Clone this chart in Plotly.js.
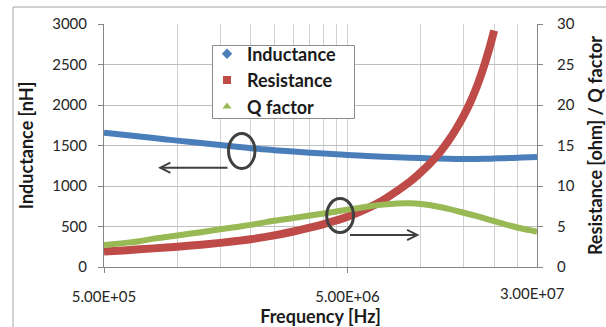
<!DOCTYPE html>
<html>
<head>
<meta charset="utf-8">
<script src="https://cdn.plot.ly/plotly-3.0.1.min.js"></script>
<style>
html,body{margin:0;padding:0;background:#fff;}
#chart{width:606px;height:327px;}
</style>
</head>
<body>
<div id="chart"></div>
<script>
// ---- data ----
const frequency = [5e5, 6e5, 7e5, 8e5, 9e5, 1e6, 1.25e6, 1.5e6, 1.75e6, 2e6, 2.5e6, 3e6, 3.5e6, 4e6, 4.5e6, 5e6, 6e6, 7e6, 8e6, 9e6, 1e7, 1.1e7, 1.2e7, 1.3e7, 1.4e7, 1.5e7, 1.6e7, 1.7e7, 1.8e7, 1.9e7, 2e7, 2.2e7, 2.4e7, 2.6e7, 2.8e7, 3e7];
const inductance = [1658, 1632, 1610, 1592, 1575, 1560, 1530, 1505, 1485, 1466, 1442, 1425, 1410, 1400, 1391, 1383, 1371, 1362, 1355, 1349, 1345, 1341, 1338, 1336, 1334, 1333, 1333, 1334, 1335, 1337, 1339, 1343, 1347, 1351, 1355, 1359];
const resistance = [1.9, 2.05, 2.18, 2.3, 2.4, 2.5, 2.75, 2.98, 3.2, 3.42, 3.9, 4.38, 4.85, 5.3, 5.75, 6.2, 7.2, 8.25, 9.4, 10.5, 11.7, 12.9, 14.2, 15.6, 17.1, 18.7, 20.4, 22.3, 24.4, 26.7, 29.2, null, null, null, null, null];
const qFactor = [2.7, 2.95, 3.18, 3.5, 3.7, 3.9, 4.3, 4.65, 4.95, 5.2, 5.7, 6.05, 6.35, 6.6, 6.85, 7.08, 7.45, 7.7, 7.84, 7.86, 7.79, 7.62, 7.4, 7.17, 6.93, 6.7, 6.48, 6.27, 6.06, 5.86, 5.66, 5.3, 5.0, 4.75, 4.55, 4.35];

const seriesNames = ['Inductance', 'Resistance', 'Q factor'];
const xTickVals = [5e5, 5e6];
const xTickText = ['5.00E+05', '5.00E+06'];
const xEndLabel = '3.00E+07';
const xMinorGrid = [1e6, 1.5e6, 2e6, 2.5e6, 3e6, 3.5e6, 4e6, 4.5e6, 1e7, 1.5e7, 2e7, 2.5e7];
const yLeftTicks = [0, 500, 1000, 1500, 2000, 2500, 3000];
const yRightTicks = [0, 5, 10, 15, 20, 25, 30];

const BLUE = '#4a7ebb', RED = '#be4b48', GREEN = '#98b954';
const AX = '#868686';
const FONT = 'Lato, "Open Sans", sans-serif';

const traces = [
  {x: frequency, y: inductance, mode: 'lines', line: {color: BLUE, width: 6, shape: 'spline'}, yaxis: 'y', showlegend: false, hoverinfo: 'skip'},
  {x: frequency, y: resistance, mode: 'lines', line: {color: RED, width: 8, shape: 'spline'}, yaxis: 'y2', showlegend: false, hoverinfo: 'skip'},
  {x: frequency, y: qFactor, mode: 'lines', line: {color: GREEN, width: 6, shape: 'spline'}, yaxis: 'y2', showlegend: false, hoverinfo: 'skip'},
  // legend entries (marker symbols only, as in the reference)
  {x: [null], y: [null], mode: 'markers', name: seriesNames[0], marker: {symbol: 'diamond', color: BLUE, size: 8}},
  {x: [null], y: [null], mode: 'markers', name: seriesNames[1], marker: {symbol: 'square', color: RED, size: 8}, yaxis: 'y2'},
  {x: [null], y: [null], mode: 'markers', name: seriesNames[2], marker: {symbol: 'triangle-up', color: GREEN, size: 8}, yaxis: 'y2'}
];

// pixel helpers for plot-area paper coords
const L = 104, T = 24, W = 433, H = 243;
const px = v => (v - L) / W;
const py = v => (T + H - v) / H;

const layout = {
  width: 606, height: 327,
  margin: {l: L, r: 606 - L - W, t: T, b: 327 - T - H},
  paper_bgcolor: '#fff', plot_bgcolor: '#fff',
  font: {family: FONT, color: '#262626', size: 15},
  showlegend: true,
  legend: {
    x: px(207), y: py(35.5), xanchor: 'left', yanchor: 'top',
    bgcolor: 'rgba(0,0,0,0)', borderwidth: 0,
    font: {family: FONT, size: 18, color: '#1a1a1a', weight: 'bold'},
    tracegroupgap: 0
  },
  xaxis: {
    type: 'log',
    range: [Math.log10(5e5), Math.log10(3e7)],
    tickmode: 'array', tickvals: xTickVals, ticktext: xTickText,
    ticks: 'outside', ticklen: 5, tickcolor: AX, tickwidth: 1,
    ticklabelstandoff: 11,
    showline: true, linecolor: AX, linewidth: 1,
    showgrid: true, gridcolor: '#d0d0d0', gridwidth: 1,
    minor: {tickmode: 'array', tickvals: xMinorGrid, showgrid: true, gridcolor: '#d0d0d0', gridwidth: 1, ticks: ''},
    zeroline: false,
    tickfont: {family: FONT, size: 15, color: '#262626'},
    title: {text: 'Frequency [Hz]', font: {family: FONT, size: 18, weight: 'bold', color: '#1a1a1a'}, standoff: 6}
  },
  yaxis: {
    range: [0, 3000], tickmode: 'array', tickvals: yLeftTicks,
    ticks: 'outside', ticklen: 5, tickcolor: AX,
    ticklabelstandoff: 8,
    showline: true, linecolor: AX, linewidth: 1,
    showgrid: true, gridcolor: '#bfbfbf', gridwidth: 1,
    zeroline: false,
    tickfont: {family: FONT, size: 15, color: '#262626'},
    title: {text: 'Inductance [nH]', font: {family: FONT, size: 18, weight: 'bold', color: '#1a1a1a'}, standoff: 13}
  },
  yaxis2: {
    overlaying: 'y', side: 'right',
    range: [0, 30], tickmode: 'array', tickvals: yRightTicks,
    ticks: 'outside', ticklen: 5, tickcolor: AX,
    ticklabelstandoff: 11,
    showline: true, linecolor: AX, linewidth: 1,
    showgrid: false, zeroline: false,
    tickfont: {family: FONT, size: 15, color: '#262626'},
    title: {text: 'Resistance [ohm] / Q factor', font: {family: FONT, size: 18, weight: 'bold', color: '#1a1a1a'}, standoff: 15}
  },
  shapes: [
    // chart frame
    {type: 'rect', xref: 'paper', yref: 'paper', x0: px(13), x1: px(640), y0: py(360), y1: py(7), line: {color: '#a6a6a6', width: 1}, fillcolor: 'rgba(0,0,0,0)', layer: 'below'},
    // legend box
    {type: 'rect', xref: 'paper', yref: 'paper', x0: px(212.5), x1: px(354.5), y0: py(118.5), y1: py(45.5), line: {color: '#8c8c8c', width: 1}, fillcolor: '#ffffff', layer: 'above'},
    // ellipses
    {type: 'circle', xref: 'paper', yref: 'paper', x0: px(228.5), x1: px(255), y0: py(168.5), y1: py(133.5), line: {color: '#404040', width: 3}},
    {type: 'circle', xref: 'paper', yref: 'paper', x0: px(326.7), x1: px(353.5), y0: py(232.5), y1: py(198.5), line: {color: '#404040', width: 3}}
  ],
  annotations: [
    {xref: 'paper', yref: 'paper', x: px(158), y: py(167.7), ax: 71, ay: 0, text: '', showarrow: true, arrowhead: 5, arrowsize: 1, arrowwidth: 2, arrowcolor: '#404040'},
    {xref: 'paper', yref: 'paper', x: px(419.5), y: py(235), ax: -71, ay: 0, text: '', showarrow: true, arrowhead: 5, arrowsize: 1, arrowwidth: 2, arrowcolor: '#404040'},
    {xref: 'paper', yref: 'paper', x: px(532), y: py(292.5), text: xEndLabel, showarrow: false, xanchor: 'center', yanchor: 'middle', font: {family: FONT, size: 15, color: '#262626'}}
  ]
};

Plotly.newPlot('chart', traces, layout, {staticPlot: true, displayModeBar: false});
</script>
</body>
</html>
